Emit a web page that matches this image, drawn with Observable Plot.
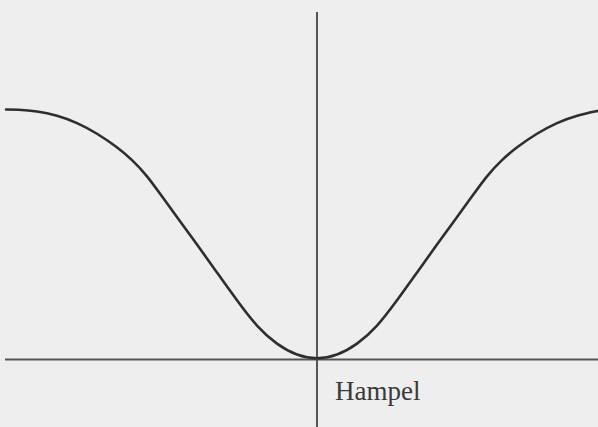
<!DOCTYPE html>
<html>
<head>
<meta charset="utf-8">
<script src="https://cdn.jsdelivr.net/npm/d3@7"></script>
<script src="https://cdn.jsdelivr.net/npm/@observablehq/plot@0.6"></script>
<style>
  html, body { margin: 0; padding: 0; background: #eeeeee; }
  #chart svg { display: block; }
</style>
</head>
<body>
<div id="chart"></div>
<script>
// Hampel loss curve: residual u against rho(u)
const uValues = [-3.11, -3.0, -2.8, -2.6, -2.4, -2.2, -2.0, -1.85, -1.7, -1.55, -1.4, -1.2, -1.0, -0.8, -0.6, -0.4, -0.2, 0,
                 0.2, 0.4, 0.6, 0.8, 1.0, 1.2, 1.4, 1.55, 1.7, 1.85, 2.0, 2.2, 2.4, 2.6, 2.815];
const rhoValues = [1.0, 1.0, 0.994, 0.977, 0.948, 0.905, 0.85, 0.80, 0.736, 0.652, 0.57, 0.46, 0.348, 0.236, 0.13, 0.059, 0.015, 0,
                   0.015, 0.059, 0.13, 0.236, 0.348, 0.46, 0.57, 0.652, 0.736, 0.80, 0.85, 0.905, 0.948, 0.977, 0.995];
const curveLabel = ["Hampel"];

const curve = uValues.map((u, i) => ({u, rho: rhoValues[i]}));

const chart = Plot.plot({
  width: 598,
  height: 427,
  margin: 0,
  style: {background: "#eeeeee"},
  x: {domain: [-3.165, 2.815], axis: null},
  y: {domain: [-0.272, 1.436], axis: null},
  marks: [
    // horizontal and vertical axes through the origin
    Plot.ruleY([0], {x1: -3.115, x2: 2.815, stroke: "#555", strokeWidth: 2}),
    Plot.ruleX([0], {y1: -0.272, y2: 1.388, stroke: "#555", strokeWidth: 2}),
    Plot.line(curve, {x: "u", y: "rho", curve: "basis", stroke: "#2e2e2e", strokeWidth: 2.6}),
    Plot.text(curveLabel, {
      x: 0.18, y: -0.16, text: d => d,
      textAnchor: "start", lineAnchor: "bottom",
      fontFamily: "Liberation Serif", fontSize: 27, fill: "#3a3a3a",
      style: "letter-spacing: 0.5px"
    })
  ]
});
document.getElementById("chart").appendChild(chart);
</script>
</body>
</html>
